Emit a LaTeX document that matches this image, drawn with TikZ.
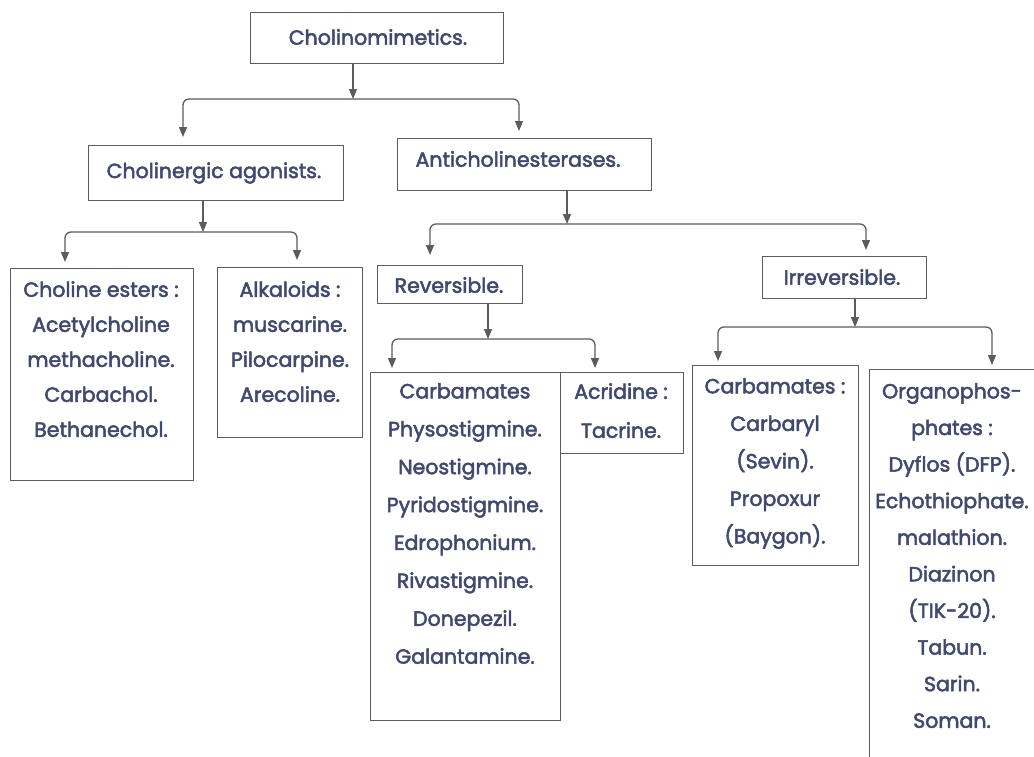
\documentclass[tikz,border=0pt]{standalone}
\usepackage{fontspec}
\setmainfont{Poppins}[BoldFont=Poppins, BoldFeatures={FakeBold=2.5}]
\usetikzlibrary{arrows.meta}
\definecolor{ink}{HTML}{414A6C}
\definecolor{rulegray}{HTML}{5C5C5C}
\tikzset{
  box/.style={draw=rulegray, line width=1.3pt, inner sep=0pt, anchor=north west},
  txt/.style={text=ink, align=center, inner sep=0pt, font=\fontsize{20.5}{35}\selectfont\bfseries},
  conn/.style={draw=rulegray, line width=1.3pt, rounded corners=6pt,
    -{Triangle[length=10pt,width=8pt]}},
}
\begin{document}
\begin{tikzpicture}[x=1pt,y=-1pt]
\clip (0,0) rectangle (1034,756);
\fill[white] (0,0) rectangle (1034,756);

% boxes
\node[box, minimum width=253pt, minimum height=51pt] (cm) at (250,12) {};
\node[box, minimum width=255pt, minimum height=55pt] (ca) at (88,145) {};
\node[box, minimum width=254pt, minimum height=52pt] (ac) at (397,138) {};
\node[box, minimum width=183pt, minimum height=212pt] (ce) at (10,268) {};
\node[box, minimum width=145pt, minimum height=170pt] (al) at (217,267) {};
\node[box, minimum width=145pt, minimum height=38pt] (rv) at (377,265) {};
\node[box, minimum width=164pt, minimum height=42pt] (ir) at (762,256) {};
\node[box, minimum width=190pt, minimum height=348pt] (cb) at (370,372) {};
\node[box, minimum width=123pt, minimum height=81pt] (ad) at (560,372) {};
\node[box, minimum width=166pt, minimum height=200pt] (ci) at (692,365) {};
\node[box, minimum width=200pt, minimum height=420pt] (op) at (869,369) {};

% labels
\node[txt] at (378,37) {Cholinomimetics.};
\node[txt] at (214,173) {Cholinergic agonists.};
\node[txt] at (518,159) {Anticholinesterases.};
\node[txt] at (449,285) {Reversible.};
\node[txt] at (842,277) {Irreversible.};
\node[txt, anchor=north] at (101,281) {Choline esters :\\Acetylcholine\\methacholine.\\Carbachol.\\Bethanechol.};
\node[txt, anchor=north] at (290,281) {Alkaloids :\\muscarine.\\Pilocarpine.\\Arecoline.};
\node[txt, anchor=north, font=\fontsize{20.5}{37.9}\selectfont\bfseries] at (465,383) {Carbamates\\Physostigmine.\\Neostigmine.\\Pyridostigmine.\\Edrophonium.\\Rivastigmine.\\Donepezil.\\Galantamine.};
\node[txt, anchor=north, font=\fontsize{20.5}{39}\selectfont\bfseries] at (621,383) {Acridine :\\Tacrine.};
\node[txt, anchor=north, font=\fontsize{20.5}{37.5}\selectfont\bfseries] at (775,378) {Carbamates :\\Carbaryl\\(Sevin).\\Propoxur\\(Baygon).};
\node[txt, anchor=north, font=\fontsize{20.5}{36.6}\selectfont\bfseries] at (952,383) {Organophos-\\phates :\\Dyflos (DFP).\\Echothiophate.\\malathion.\\Diazinon\\(TIK-20).\\Tabun.\\Sarin.\\Soman.};

% branch points
\coordinate (b1) at (353,99);  \coordinate (b1l) at (183,0); \coordinate (b1r) at (519,0);
\coordinate (b2) at (203,232); \coordinate (b2l) at (65,0);  \coordinate (b2r) at (297,0);
\coordinate (b3) at (567,224); \coordinate (b3l) at (430,0); \coordinate (b3r) at (866,0);
\coordinate (b4) at (488,339); \coordinate (b4l) at (392,0); \coordinate (b4r) at (595,0);
\coordinate (b5) at (855,327); \coordinate (b5l) at (718,0); \coordinate (b5r) at (992,0);

% connectors
\draw[conn] (cm.south -| b1) -- (b1);
\draw[conn, shorten >=8pt] (b1) -| (ca.north -| b1l);
\draw[conn, shorten >=7pt] (b1) -| (ac.north -| b1r);

\draw[conn] (ca.south -| b2) -- (b2);
\draw[conn, shorten >=6pt] (b2) -| (ce.north -| b2l);
\draw[conn, shorten >=7pt] (b2) -| (al.north -| b2r);

\draw[conn] (ac.south -| b3) -- (b3);
\draw[conn, shorten >=10pt] (b3) -| (rv.north -| b3l);
\draw[conn, shorten >=6pt] (b3) -| (ir.north -| b3r);

\draw[conn] (rv.south -| b4) -- (b4);
\draw[conn, shorten >=4pt] (b4) -| (cb.north -| b4l);
\draw[conn, shorten >=4pt] (b4) -| (ad.north -| b4r);

\draw[conn] (ir.south -| b5) -- (b5);
\draw[conn, shorten >=4pt] (b5) -| (ci.north -| b5l);
\draw[conn, shorten >=4pt] (b5) -| (op.north -| b5r);
\end{tikzpicture}
\end{document}
